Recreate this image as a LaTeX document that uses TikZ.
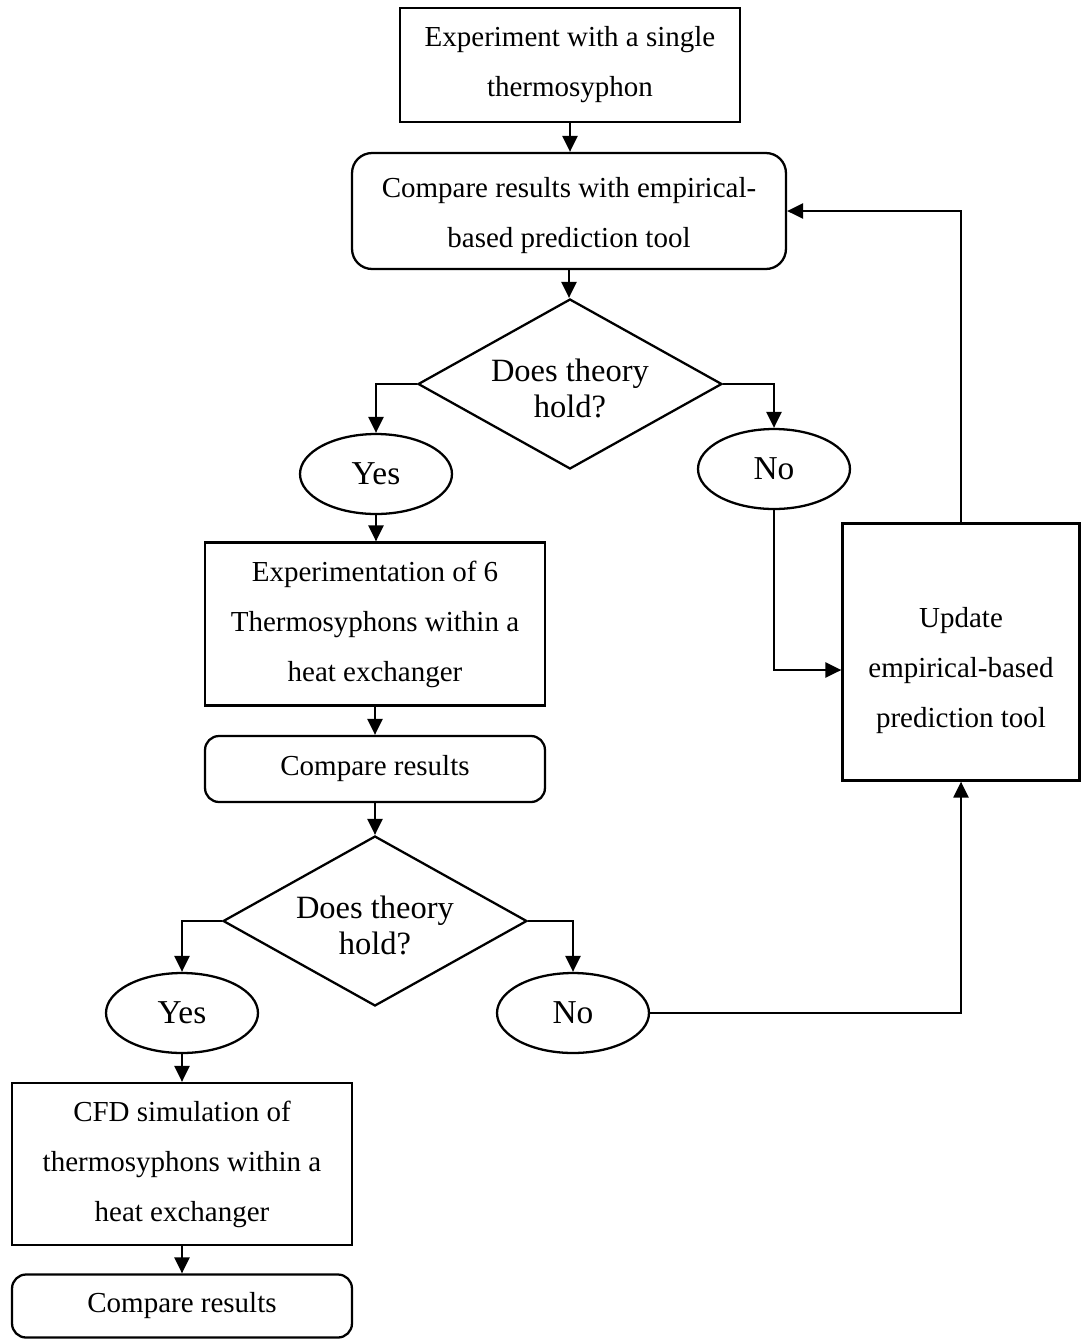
\documentclass[tikz,border=0pt]{standalone}
\usepackage{fontspec}
\setmainfont{Liberation Serif}
\usetikzlibrary{shapes.geometric,arrows.meta}

\begin{document}
\begin{tikzpicture}[x=0.02cm,y=-0.02cm,line width=1.3pt,
    font=\fontsize{16.5}{28.5}\selectfont,
    procbox/.style={draw,rectangle,align=center,inner sep=0pt},
    roundbox/.style={procbox,rounded corners=0.28cm},
    decision/.style={draw,diamond,align=center,inner xsep=-1.5cm,inner ysep=-0.8cm,
        minimum width=6.08cm,minimum height=3.4cm,text height=38pt,
        font=\fontsize{18.5}{20.5}\selectfont},
    answer/.style={draw,ellipse,inner sep=0pt,
        minimum width=3.04cm,minimum height=1.6cm,
        font=\fontsize{19}{21}\selectfont},
    fleche/.style={-{Triangle[length=0.32cm,width=0.3cm]}}]

\useasboundingbox (0,0) rectangle (1082,1340);

% premiere branche
\node[procbox,minimum width=6.8cm,minimum height=2.28cm] (exp) at (570,65)
    {Experiment with a single\\thermosyphon};
\node[roundbox,rounded corners=0.4cm,minimum width=8.68cm,minimum height=2.32cm,text height=45.5pt] (cmpA) at (569,211)
    {Compare results with empirical-\\based prediction tool};
\node[decision] (decA) at (570,384) {Does theory\\hold?};
\node[answer] (yesA) at (376,474) {Yes};
\node[answer] (noA) at (774,469) {No};

% deuxieme branche
\node[procbox,minimum width=6.8cm,minimum height=3.26cm] (expB) at (375,624)
    {Experimentation of 6\\Thermosyphons within a\\heat exchanger};
\node[roundbox,minimum width=6.8cm,minimum height=1.32cm] (cmpB) at (375,769) {Compare results};
\node[decision] (decB) at (375,921) {Does theory\\hold?};
\node[answer] (yesB) at (182,1013) {Yes};
\node[answer] (noB) at (573,1013) {No};

% simulation
\node[procbox,minimum width=6.8cm,minimum height=3.24cm] (cfd) at (182,1164)
    {CFD simulation of\\thermosyphons within a\\heat exchanger};
\node[roundbox,minimum width=6.8cm,minimum height=1.26cm] (cmpC) at (182,1306) {Compare results};

% mise a jour
\node[procbox,minimum width=4.74cm,minimum height=5.14cm,text height=90pt] (update) at (961,652)
    {Update\\empirical-based\\prediction tool};

% fleches
\draw[fleche] (exp.south) -- (exp.south |- cmpA.north);
\draw[fleche] (cmpA.south) -- (cmpA.south |- decA.north);
\draw[fleche] (decA.west) -| (yesA.north);
\draw[fleche] (decA.east) -| (noA.north);
\draw[fleche] (yesA.south) -- (yesA.south |- expB.north);
\draw[fleche] (expB) -- (cmpB);
\draw[fleche] (cmpB) -- (decB);
\draw[fleche] (decB.west) -| (yesB.north);
\draw[fleche] (decB.east) -| (noB.north);
\draw[fleche] (yesB) -- (cfd);
\draw[fleche] (cfd) -- (cmpC);
\draw[fleche] (noA.south) |- ([yshift=-0.36cm]update.west);
\draw[fleche] (update.north) |- (cmpA.east);
\draw[fleche] (noB.east) -| (update.south);
\end{tikzpicture}
\end{document}
